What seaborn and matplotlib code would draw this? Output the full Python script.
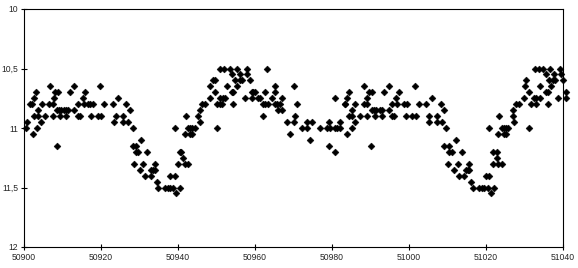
import matplotlib
matplotlib.use("Agg")
import matplotlib.pyplot as plt
import seaborn as sns
import pandas as pd
import numpy as np

# Julian-day (JD-2400000) and magnitude, grouped by magnitude row within each stretch
days_a = [50900.6, 50900.9, 50901.6, 50902.2, 50902.4, 50902.7, 50902.7, 50903.2, 50903.5, 50903.7,
          50903.7, 50904.5, 50904.8, 50905.5, 50906.6, 50906.8, 50907.6, 50907.6, 50907.9, 50908.1,
          50908.9, 50908.7, 50908.7, 50909.2, 50909.7, 50909.4, 50910.5, 50911.0, 50911.5, 50911.0,
          50912.05, 50913.1, 50913.1, 50913.9, 50914.1, 50914.6, 50915.2, 50915.7, 50915.9, 50916.7,
          50917.2, 50918.0, 50917.5, 50919.1, 50920.1, 50919.85, 50920.9, 50923.0, 50923.5, 50924.0,
          50924.5]
mags_a = [11.0, 10.95, 10.8, 10.8, 11.05, 10.9, 10.75, 10.7, 11.0, 10.85,
          10.9, 10.95, 10.8, 10.9, 10.8, 10.65, 10.9, 10.8, 10.75, 10.7,
          10.7, 11.15, 10.85, 10.85, 10.85, 10.9, 10.85, 10.85, 10.85, 10.9,
          10.7, 10.65, 10.85, 10.8, 10.9, 10.9, 10.75, 10.8, 10.7, 10.8,
          10.8, 10.8, 10.9, 10.9, 10.9, 10.65, 10.8, 10.8, 10.95, 10.9,
          10.75]

days_b = [50925.6, 50925.8, 50926.6, 50926.9, 50927.6, 50928.2, 50928.2, 50929.2, 50928.7, 50929.2,
          50929.7, 50930.0, 50930.5, 50931.0, 50931.5, 50932.05, 50933.1, 50933.1, 50933.6, 50934.1,
          50934.1, 50934.65, 50934.9, 50936.7, 50937.3, 50937.8, 50938.0, 50938.6, 50939.1, 50939.3,
          50939.6, 50940.1, 50940.4, 50940.6, 50940.9, 50941.2, 50941.7, 50941.7, 50942.2, 50942.7,
          50942.7, 50943.2, 50943.7, 50944.3, 50943.2, 50943.7, 50945.3, 50945.6, 50945.6]
mags_b = [10.9, 10.95, 10.8, 10.95, 10.85, 11.0, 11.15, 11.15, 11.3, 11.2,
          11.2, 11.35, 11.1, 11.3, 11.4, 11.2, 11.4, 11.35, 11.35, 11.35,
          11.3, 11.45, 11.5, 11.5, 11.5, 11.5, 11.4, 11.5, 11.4, 11.0,
          11.55, 11.3, 11.2, 11.5, 11.2, 11.25, 11.3, 11.05, 10.9, 11.3,
          11.0, 11.0, 11.0, 11.0, 11.05, 11.05, 10.9, 10.85, 10.95]

days_c = [50951.0, 50952.07, 50953.4, 50955.2, 50957.8, 50963.0,
          50954.1, 50956.0, 50958.0,
          50949.2, 50949.5, 50954.9, 50956.2, 50956.7, 50958.6,
          50948.4, 50952.6, 50955.2, 50965.1,
          50949.7, 50953.9, 50954.4, 50959.1, 50959.6, 50960.1, 50962.5, 50965.1,
          50948.2, 50951.0, 50951.8, 50952.3, 50957.3, 50959.1, 50960.9, 50961.2, 50964.3, 50966.9,
          50946.3, 50946.9, 50950.2, 50950.8, 50951.3, 50954.4, 50962.2, 50962.7, 50963.5, 50965.1,
          50965.8, 50966.6,
          50966.1, 50967.1, 50962.2, 50950.0]
mags_c = [10.5] * 6 + [10.55] * 3 + [10.6] * 6 + [10.65] * 4 + [10.7] * 8 + [10.75] * 10 + \
         [10.8] * 12 + [10.85] * 2 + [10.9] + [11.0]

days_d = [50970.0, 50988.2,
          50984.5, 50989.5, 50990.5,
          50980.7, 50984.0, 50989.2,
          50971.0, 50983.3, 50983.5, 50986.1, 50988.2, 50989.2,
          50985.3, 50990.3, 50990.8, 50991.3, 50992.4,
          50970.3, 50984.3, 50985.3, 50987.2, 50989.0, 50991.1,
          50968.2, 50970.0, 50973.6, 50974.7, 50979.1, 50982.2, 50986.1,
          50972.1, 50973.6, 50977.0, 50978.6, 50979.6, 50980.7, 50981.2, 50982.2, 50985.1,
          50969.2, 50984.0,
          50974.4,
          50979.1, 50990.0,
          50980.9]
mags_d = [10.65] * 2 + [10.7] * 3 + [10.75] * 3 + [10.8] * 6 + [10.85] * 5 + [10.9] * 6 + \
         [10.95] * 7 + [11.0] * 9 + [11.05] * 2 + [11.1] + [11.15] * 2 + [11.2]

days_e = [50994.7, 51001.45,
          50993.6, 50997.3,
          50996.5, 51006.1,
          50995.5, 50997.0, 50998.6, 50999.6, 51002.5, 51004.3, 51008.2,
          50992.9, 50994.7, 51009.0,
          50992.9, 50995.5, 50996.0, 50999.1, 51000.7, 51001.7, 51005.3, 51007.2,
          51005.1, 51007.4, 51008.5]
mags_e = [10.65] * 2 + [10.7] * 2 + [10.75] * 2 + [10.8] * 7 + [10.85] * 3 + [10.9] * 8 + [10.95] * 3

days_f = [51009.5, 51020.9, 51024.1, 51024.6, 51025.1, 51025.6, 51031.1,
          51012.1,
          51009.2, 51010.5,
          51010.5, 51011.05, 51013.65, 51021.7, 51022.75,
          51022.75,
          51010.0, 51012.6, 51015.7, 51021.7, 51023.0, 51024.1,
          51011.6, 51014.7, 51015.2, 51015.7,
          51013.1, 51014.2, 51019.9, 51020.9,
          51016.0,
          51016.5, 51018.1, 51018.9, 51019.4, 51020.4, 51022.2,
          51021.2,
          51023.0, 51024.6, 51025.1,
          51027.2]
mags_f = [11.0] * 7 + [11.1] + [11.15] * 2 + [11.2] * 5 + [11.25] + [11.3] * 6 + [11.35] * 4 + \
         [11.4] * 4 + [11.45] + [11.5] * 6 + [11.55] + [11.05] * 3 + [10.95]

days_g = [51032.6, 51033.7, 51034.7, 51036.5, 51039.1,
          51035.7, 51037.6, 51039.4,
          51030.5, 51036.3, 51037.3, 51037.8, 51039.9,
          51030.0, 51033.9, 51036.8,
          51031.1, 51035.5, 51036.0, 51040.9,
          51029.8, 51032.4, 51033.1, 51033.9, 51038.6, 51040.7,
          51027.9, 51028.5, 51031.8, 51033.1, 51036.0,
          51026.9,
          51026.9, 51023.5]
mags_g = [10.5] * 5 + [10.55] * 3 + [10.6] * 5 + [10.65] * 3 + [10.7] * 4 + [10.75] * 6 + \
         [10.8] * 5 + [10.85] + [10.9] * 2

x_ticks = [50900, 50920, 50940, 50960, 50980, 51000, 51020, 51040]
y_ticks = [10, 10.5, 11, 11.5, 12]
y_tick_labels = ["10", "10,5", "11", "11,5", "12"]

days = days_a + days_b + days_c + days_d + days_e + days_f + days_g
mags = mags_a + mags_b + mags_c + mags_d + mags_e + mags_f + mags_g
df = pd.DataFrame({"jd": days, "mag": mags})

sns.set_style("white")
plt.rcParams["font.family"] = ["Liberation Sans", "DejaVu Sans"]

fig = plt.figure(figsize=(5.78, 2.68), dpi=100)
ax = fig.add_axes([24 / 578, 1 - 247 / 268, (563 - 24) / 578, (247 - 9) / 268])

sns.scatterplot(data=df, x="jd", y="mag", ax=ax, marker="D", s=12, color="black",
                linewidth=0.4, edgecolor="black", clip_on=False, legend=False)

ax.set_xlim(50900, 51040)
ax.set_ylim(12, 10)
ax.set_xticks(x_ticks)
ax.set_xticklabels([str(t) for t in x_ticks])
ax.set_yticks(y_ticks)
ax.set_yticklabels(y_tick_labels)
ax.set_xlabel("")
ax.set_ylabel("")
ax.tick_params(axis="both", direction="inout", length=5, width=0.8, color="black",
               labelsize=6.2, pad=1.5, bottom=True, left=True)
for sp in ax.spines.values():
    sp.set_visible(True)
    sp.set_color("black")
    sp.set_linewidth(0.8)
ax.grid(False)

fig.savefig("out.png", dpi=100, facecolor="white")
